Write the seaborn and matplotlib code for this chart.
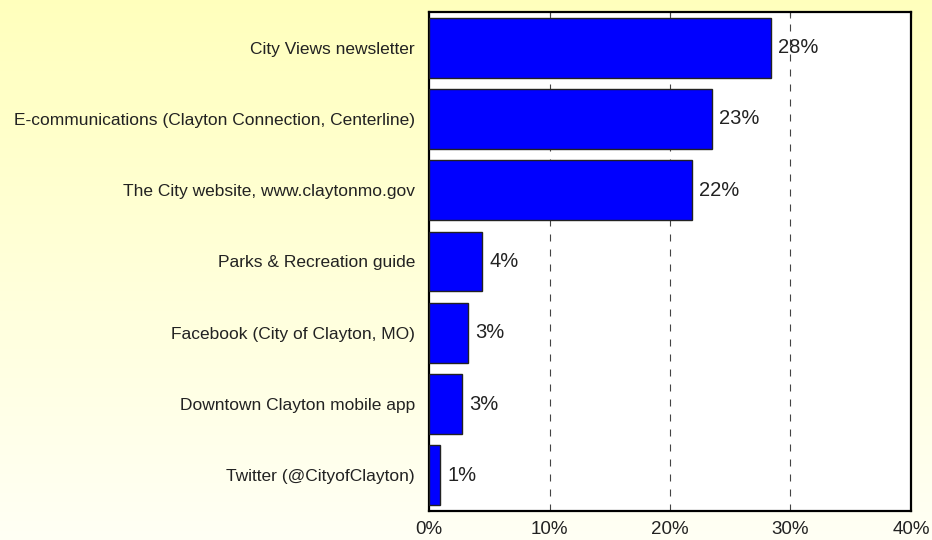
import numpy as np
import pandas as pd
import matplotlib
matplotlib.use("Agg")
import matplotlib.pyplot as plt
from matplotlib.ticker import FuncFormatter
import seaborn as sns

# datos
fuentes = [
    "City Views newsletter",
    "E-communications (Clayton Connection, Centerline)",
    "The City website, www.claytonmo.gov",
    "Parks & Recreation guide",
    "Facebook (City of Clayton, MO)",
    "Downtown Clayton mobile app",
    "Twitter (@CityofClayton)",
]
porcentajes = [28.4, 23.5, 21.8, 4.4, 3.2, 2.7, 0.9]
etiquetas = ["28%", "23%", "22%", "4%", "3%", "3%", "1%"]
ticks_x = [0, 10, 20, 30, 40]

df = pd.DataFrame({"Fuente": fuentes, "Pct": porcentajes})

sns.set_style("white")
plt.rcParams["font.family"] = ["Liberation Sans", "DejaVu Sans"]

fig = plt.figure(figsize=(9.32, 5.4), dpi=100)

# fondo degradado amarillo -> blanco
grad = np.linspace(0, 1, 256).reshape(-1, 1)
bg = fig.add_axes([0, 0, 1, 1], zorder=-10)
arriba = np.array([1.0, 1.0, 0.74])
abajo = np.array([1.0, 1.0, 0.96])
img = arriba + (abajo - arriba) * grad[:, :, None]
bg.imshow(img, aspect="auto", extent=[0, 1, 0, 1])
bg.axis("off")

ax = fig.add_axes([429 / 932, 29 / 540, 482 / 932, 499 / 540])
ax.set_facecolor("white")

sns.barplot(data=df, x="Pct", y="Fuente", color="#0000FF", saturation=1,
            edgecolor="#222222", linewidth=1, width=0.84, ax=ax, zorder=3)

for i, (v, t) in enumerate(zip(porcentajes, etiquetas)):
    ax.text(v + 0.6, i, t, va="center", ha="left", fontsize=14.5, color="#222222", zorder=4)

ax.set_xlim(0, 40)
ax.set_xticks(ticks_x)
ax.xaxis.set_major_formatter(FuncFormatter(lambda v, p: f"{v:.0f}%"))
for x in ticks_x[1:-1]:
    ax.axvline(x, color="#444444", linestyle=(0, (6.3, 7.2)), linewidth=0.8, zorder=1)

ax.set_xlabel("")
ax.set_ylabel("")
ax.tick_params(axis="x", labelsize=13.5, length=4, direction="in", top=True,
               bottom=False, pad=7, color="#555555", labelcolor="#222222")
ax.tick_params(axis="y", labelsize=12.5, length=0, pad=10, labelcolor="#222222")
for s in ax.spines.values():
    s.set_visible(True)
    s.set_color("black")
    s.set_linewidth(1.6)

fig.savefig("out.png", dpi=100)
